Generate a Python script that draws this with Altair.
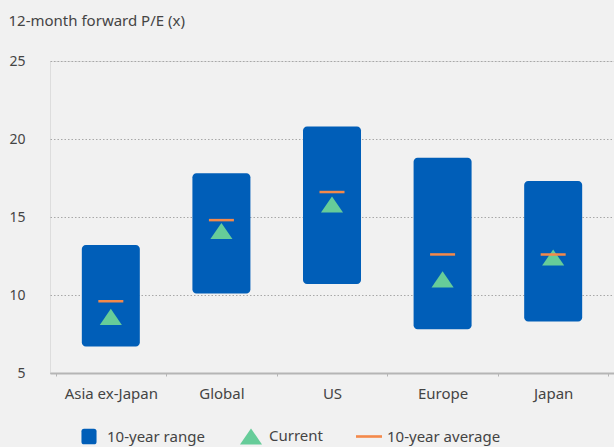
import altair as alt
import pandas as pd

# ---- data ----
categories = ["Asia ex-Japan", "Global", "US", "Europe", "Japan"]
range_low = [6.7, 10.1, 10.7, 7.8, 8.3]
range_high = [13.2, 17.8, 20.8, 18.8, 17.3]
avg_10y = [9.6, 14.8, 16.6, 12.6, 12.6]
current = [8.6, 14.1, 15.8, 11.0, 12.4]
y_ticks = [5, 10, 15, 20, 25]
series_names = ["10-year range", "Current", "10-year average"]

BLUE = "#005EB8"
GREEN = "#66CC99"
ORANGE = "#F4894A"
TEXT = "#444444"
BG = "#F1F1F1"

SQUARE = ("M-0.38,-0.6L0.38,-0.6Q0.58,-0.6 0.58,-0.4L0.58,0.4Q0.58,0.6 0.38,0.6"
          "L-0.38,0.6Q-0.58,0.6 -0.58,0.4L-0.58,-0.4Q-0.58,-0.6 -0.38,-0.6Z")
TRI = "M-0.85,0.62L0.85,0.62L0,-0.62Z"
LINE = "M-1,-0.1L1,-0.1L1,0.1L-1,0.1Z"

df = pd.DataFrame({
    "category": categories,
    "low": range_low,
    "high": range_high,
    "avg": avg_10y,
    "current": current,
})

FONT = "Noto Sans"

x_enc = alt.X(
    "category:N",
    sort=categories,
    scale=alt.Scale(paddingInner=0, paddingOuter=0.05),
    axis=alt.Axis(
        title=None, labelAngle=0, labelFontSize=15, labelColor=TEXT,
        labelPadding=10, domainColor="#B5B5B5", domainWidth=2,
        tickColor="#B5B5B5", tickSize=3, tickBand="extent", grid=False,
    ),
)

y_axis = alt.Axis(
    values=y_ticks, domain=False, ticks=False, grid=True,
    gridDash=[1.5, 2], gridColor="#A8A8A8", gridWidth=1,
    labelFontSize=14, labelColor=TEXT, labelPadding=25,
    title="12-month forward P/E (x)", titleAngle=0, titleAlign="left",
    titleBaseline="middle", titleX=-42, titleY=-41,
    titleFontWeight="normal", titleFontSize=15, titleColor=TEXT,
)
y_scale = alt.Scale(domain=[5, 25], nice=False, zero=False)

color_scale = alt.Scale(domain=series_names, range=[BLUE, GREEN, ORANGE])
shape_scale = alt.Scale(domain=series_names, range=[SQUARE, TRI, LINE])

legend = alt.Legend(
    title=None, orient="none", direction="horizontal",
    legendX=26, legendY=362, symbolSize=676, symbolStrokeWidth=0,
    labelFontSize=15, labelColor=TEXT, labelOffset=5, columnPadding=33,
)

base = alt.Chart(df)

bars = base.transform_calculate(series="'10-year range'").mark_bar(
    width=58, cornerRadius=4, opacity=1
).encode(
    x=x_enc,
    y=alt.Y("low:Q", scale=y_scale, axis=y_axis),
    y2="high:Q",
    color=alt.Color("series:N", scale=color_scale, legend=legend),
)

points = base.transform_calculate(series="'Current'").mark_point(
    filled=True, size=676, opacity=1, strokeWidth=0
).encode(
    x=x_enc,
    y=alt.Y("current:Q", scale=y_scale, axis=y_axis),
    color=alt.Color("series:N", scale=color_scale, legend=legend),
    shape=alt.Shape("series:N", scale=shape_scale, legend=legend),
)

ticks = base.transform_calculate(series="'10-year average'").mark_tick(
    size=25, thickness=2.5, opacity=1
).encode(
    x=x_enc,
    y=alt.Y("avg:Q", scale=y_scale, axis=y_axis),
    color=alt.Color("series:N", scale=color_scale, legend=legend),
)

chart = alt.layer(bars, points, ticks).properties(
    width=564, height=312,
    autosize=alt.AutoSizeParams(type="none"),
    padding={"left": 50, "top": 61, "right": 0, "bottom": 74},
    background=BG,
).configure_view(stroke=None).configure(font=FONT)

chart.save("out.html", embed_options={"renderer": "svg", "actions": False})
